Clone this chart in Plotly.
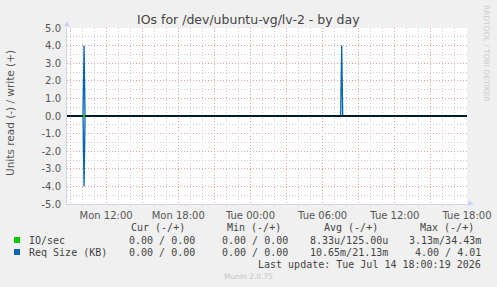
import plotly.graph_objects as go

# ---- data ----
times = ["2026-07-13 08:45", "2026-07-13 10:05", "2026-07-13 10:10", "2026-07-13 10:15",
         "2026-07-14 07:30", "2026-07-14 07:35", "2026-07-14 07:40", "2026-07-14 18:00"]
req_read = [0, 0, 4.00, 0, 0, 0, 0, 0]
req_write = [0, 0, 4.01, 0, 0, 4.00, 0, 0]

io_times = ["2026-07-13 10:05", "2026-07-13 10:10", "2026-07-13 10:15"]
io_read = [0, 0.00313, 0]
io_write = [0, 0.03443, 0]

x_range = ["2026-07-13 08:45", "2026-07-14 18:00"]
x_tickvals = ["2026-07-13 09:00", "2026-07-13 12:00", "2026-07-13 15:00", "2026-07-13 18:00",
              "2026-07-13 21:00", "2026-07-14 00:00", "2026-07-14 03:00", "2026-07-14 06:00",
              "2026-07-14 09:00", "2026-07-14 12:00", "2026-07-14 15:00", "2026-07-14 18:00"]
x_ticktext = ["", "Mon 12:00", "", "Mon 18:00", "", "Tue 00:00", "", "Tue 06:00",
              "", "Tue 12:00", "", "Tue 18:00"]
y_tickvals = [-5, -4, -3, -2, -1, 0, 1, 2, 3, 4, 5]
y_ticktext = ["-5.0", "-4.0", "-3.0", "-2.0", "-1.0", "0.0", "1.0", "2.0", "3.0", "4.0", "5.0"]

legend_names = ["IO/sec", "Req Size (KB)"]
legend_colors = ["#00CC00", "#0066B3"]
col_headers = ["Cur (-/+)", "Min (-/+)", "Avg (-/+)", "Max (-/+)"]
cur_vals = ["0.00 / 0.00", "0.00 / 0.00"]
min_vals = ["0.00 / 0.00", "0.00 / 0.00"]
avg_vals = ["8.33u/125.00u", "10.65m/21.13m"]
max_vals = ["3.13m/34.43m", "4.00 / 4.01"]
title = "IOs for /dev/ubuntu-vg/lv-2 - by day"
y_title = "Units read (-) / write (+)"
last_update = "Last update: Tue Jul 14 18:00:19 2026"
footer = "Munin 2.0.75"
watermark = "RRDTOOL / TOBI OETIKER"

# ---- layout geometry (pixels) ----
W, H = 497, 287
L, R, T, B = 67, 467, 28, 204


def px(x):
    return (x - L) / (R - L)


def py(y):
    return (B - y) / (B - T)


fig = go.Figure()

blue = legend_colors[1]
green = legend_colors[0]
fig.add_trace(go.Scatter(x=times, y=[-v for v in req_read], mode="lines",
                         line=dict(color=blue, width=1.3), hoverinfo="skip"))
fig.add_trace(go.Scatter(x=times, y=req_write, mode="lines",
                         line=dict(color=blue, width=1.3), hoverinfo="skip"))
# zero rule
fig.add_trace(go.Scatter(x=x_range, y=[0, 0], mode="lines",
                         line=dict(color="#000000", width=1.3), hoverinfo="skip"))
fig.add_trace(go.Scatter(x=io_times, y=[-v for v in io_read], mode="lines",
                         line=dict(color=green, width=1.5), hoverinfo="skip"))
fig.add_trace(go.Scatter(x=io_times, y=io_write, mode="lines",
                         line=dict(color=green, width=1.5), hoverinfo="skip"))

tickfont = dict(family="DejaVu Sans", size=10, color="#555555")
mono = dict(family="DejaVu Sans Mono", size=10, color="#444444")
major_grid = "#e6a0a0"
minor_grid = "#cfcfcf"
dots = "1px,2px"

fig.update_layout(
    width=W, height=H,
    margin=dict(l=L, r=W - R, t=T, b=H - B, autoexpand=False),
    paper_bgcolor="#f0f0f0", plot_bgcolor="#ffffff",
    showlegend=False,
    xaxis=dict(range=x_range, type="date", tickvals=x_tickvals, ticktext=x_ticktext,
               showgrid=True, gridcolor=major_grid, griddash=dots, gridwidth=1,
               minor=dict(dtick=3600000, tick0="2026-07-13 00:00", showgrid=True,
                          gridcolor=minor_grid, griddash=dots, gridwidth=1),
               showline=True, linecolor="#d0d4f0", linewidth=1,
               ticks="outside", ticklen=2, tickcolor="rgba(0,0,0,0)",
               tickfont=tickfont, zeroline=False, fixedrange=True, automargin=False),
    yaxis=dict(range=[-5, 5], tickvals=y_tickvals, ticktext=y_ticktext,
               showgrid=True, gridcolor=major_grid, griddash=dots, gridwidth=1,
               minor=dict(dtick=0.5, tick0=0, showgrid=True,
                          gridcolor=minor_grid, griddash=dots, gridwidth=1),
               showline=True, linecolor="#d0d4f0", linewidth=1,
               ticks="outside", ticklen=3, tickcolor="rgba(0,0,0,0)",
               tickfont=tickfont, zeroline=False, fixedrange=True, automargin=False),
)

# axis arrows
fig.add_shape(type="path", xref="paper", yref="paper", layer="above",
              path=f"M {px(64)} {py(26.5)} L {px(70)} {py(26.5)} L {px(67)} {py(21)} Z",
              fillcolor="#ccd4f4", line=dict(width=0))
fig.add_shape(type="path", xref="paper", yref="paper", layer="above",
              path=f"M {px(468)} {py(200.5)} L {px(468)} {py(206.5)} L {px(474)} {py(203.5)} Z",
              fillcolor="#ccd4f4", line=dict(width=0))

ann = []
ann.append(dict(text=title, x=px(248.5), y=py(19), xanchor="center", yanchor="middle",
                font=dict(family="DejaVu Sans", size=12.5, color="#444444")))
ann.append(dict(text=y_title, x=px(10), y=py(113), xanchor="center", yanchor="middle",
                textangle=-90, font=dict(family="DejaVu Sans", size=10.5, color="#555555")))
ann.append(dict(text=watermark, x=px(487), y=py(53), xanchor="center", yanchor="middle",
                textangle=90, font=dict(family="DejaVu Sans", size=7.5, color="#cccccc")))

header_right = [187, 283, 380, 476]
value_right = [197, 290, 390, 483]
for h, xr in zip(col_headers, header_right):
    ann.append(dict(text=h.replace(" ", "&nbsp;"), x=px(xr), y=py(228), xanchor="right",
                    yanchor="middle", font=mono))
row_y = [240, 252]
for i, name in enumerate(legend_names):
    ann.append(dict(text=name.replace(" ", "&nbsp;"), x=px(26.5), y=py(row_y[i]), xanchor="left",
                    yanchor="middle", font=mono))
    for vals, xr in zip([cur_vals, min_vals, avg_vals, max_vals], value_right):
        ann.append(dict(text=vals[i].replace(" ", "&nbsp;"), x=px(xr), y=py(row_y[i]),
                        xanchor="right", yanchor="middle", font=mono))
    fig.add_shape(type="rect", xref="paper", yref="paper",
                  x0=px(14), x1=px(20), y0=py(row_y[i] + 3), y1=py(row_y[i] - 3),
                  fillcolor=legend_colors[i], line=dict(width=0))
ann.append(dict(text=last_update.replace(" ", "&nbsp;"), x=px(483), y=py(264), xanchor="right",
                yanchor="middle", font=mono))
ann.append(dict(text=footer, x=px(248), y=py(276), xanchor="center", yanchor="middle",
                font=dict(family="DejaVu Sans", size=7.5, color="#c4c4c4")))

for a in ann:
    a.update(xref="paper", yref="paper", showarrow=False)
fig.update_layout(annotations=ann)

fig.write_html("out.html")
